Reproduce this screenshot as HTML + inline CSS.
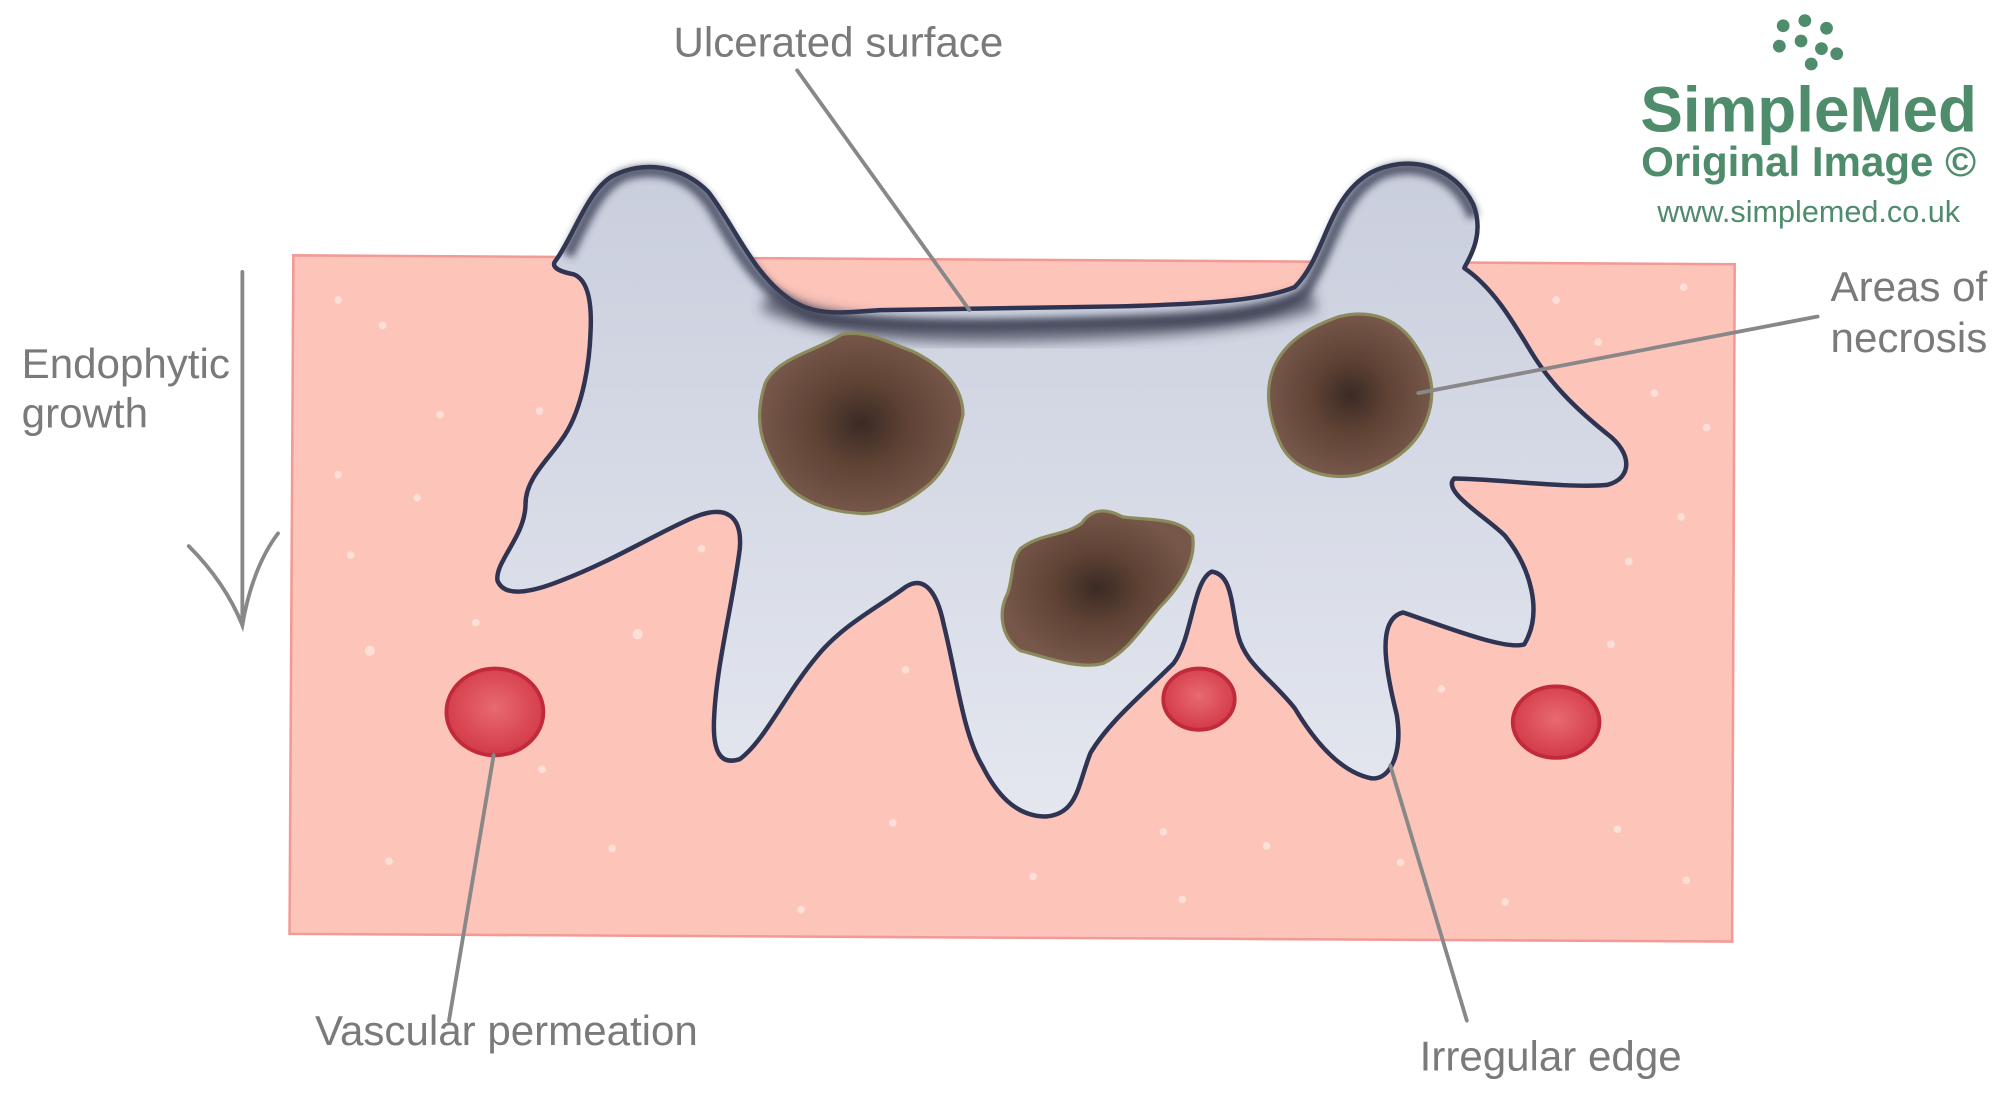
<!DOCTYPE html>
<html><head><meta charset="utf-8"><style>
html,body{margin:0;padding:0;background:#fff;}
svg{display:block;}
text{font-family:"Liberation Sans",sans-serif;}
</style></head><body>
<svg width="2000" height="1105" viewBox="0 0 1568 866" xmlns="http://www.w3.org/2000/svg">
<defs>
<filter id="bl" x="-20%" y="-50%" width="140%" height="200%"><feGaussianBlur stdDeviation="3"/></filter>
<filter id="bl2" x="-20%" y="-50%" width="140%" height="200%"><feGaussianBlur stdDeviation="5"/></filter>
<radialGradient id="nec" cx="50%" cy="50%" r="50%">
<stop offset="0" stop-color="#3a2a24"/><stop offset="0.45" stop-color="#5e4234"/><stop offset="1" stop-color="#76574a"/>
</radialGradient>
<radialGradient id="rbc" cx="50%" cy="45%" r="55%">
<stop offset="0" stop-color="#e86a72"/><stop offset="1" stop-color="#d33a48"/>
</radialGradient>
<linearGradient id="tum" x1="0" y1="0" x2="0" y2="1">
<stop offset="0" stop-color="#c9cedd"/><stop offset="1" stop-color="#e4e7ef"/>
</linearGradient>
</defs>
<rect width="1568" height="866" fill="#fff"/>
<polygon points="230,200 1360,207 1358,738 227,732" fill="#fdc4ba" stroke="#f29a95" stroke-width="2"/>
<g fill="#fde6e0" opacity="0.8">
<circle cx="265" cy="235" r="3"/><circle cx="345" cy="325" r="3"/><circle cx="300" cy="255" r="3"/><circle cx="265" cy="372" r="3"/><circle cx="327" cy="390" r="3"/><circle cx="275" cy="435" r="3"/><circle cx="290" cy="510" r="4"/><circle cx="500" cy="497" r="4"/><circle cx="550" cy="430" r="3"/><circle cx="425" cy="603" r="3"/><circle cx="480" cy="665" r="3"/><circle cx="305" cy="675" r="3"/><circle cx="628" cy="713" r="3"/><circle cx="700" cy="645" r="3"/><circle cx="810" cy="687" r="3"/><circle cx="912" cy="652" r="3"/><circle cx="993" cy="663" r="3"/><circle cx="927" cy="705" r="3"/><circle cx="1098" cy="676" r="3"/><circle cx="1180" cy="707" r="3"/><circle cx="1268" cy="650" r="3"/><circle cx="1322" cy="690" r="3"/><circle cx="1263" cy="505" r="3"/><circle cx="1277" cy="440" r="3"/><circle cx="1318" cy="405" r="3"/><circle cx="1297" cy="308" r="3"/><circle cx="1253" cy="268" r="3"/><circle cx="1220" cy="235" r="3"/><circle cx="1320" cy="225" r="3"/><circle cx="1338" cy="335" r="3"/><circle cx="1130" cy="540" r="3"/><circle cx="710" cy="525" r="3"/><circle cx="373" cy="488" r="3"/><circle cx="423" cy="322" r="3"/>
</g>
<path d="M435,205 C450,185 460,150 480,138 C505,125 535,130 555,150 C575,175 590,215 620,235 C640,248 660,245 690,243 L880,240 C950,238 990,235 1015,225 C1040,200 1040,155 1075,135 C1105,120 1140,130 1155,160 C1165,185 1150,205 1148,210 C1170,225 1185,250 1200,275 C1215,300 1235,320 1260,340 C1280,355 1280,375 1260,380 C1230,383 1170,375 1140,375 C1130,385 1165,405 1180,420 C1200,445 1210,480 1195,505 C1180,510 1130,490 1100,480 C1080,485 1085,520 1095,560 C1100,590 1090,612 1075,610 C1050,605 1030,580 1015,555 C995,530 975,520 970,495 C965,470 965,450 950,448 C935,455 935,500 920,520 C895,545 870,565 855,590 C845,615 845,638 820,640 C795,640 780,620 770,600 C755,575 750,530 740,490 C735,465 725,450 710,460 C690,475 660,490 640,515 C615,545 600,580 580,595 C565,600 558,590 560,560 C562,520 575,470 580,430 C582,405 570,395 545,405 C520,415 480,440 440,455 C415,465 395,468 390,455 C388,440 412,420 412,395 C412,375 430,360 440,345 C455,325 462,290 463,260 C464,240 462,220 450,215 C440,213 432,210 435,205 Z" fill="url(#tum)" stroke="#2f3452" stroke-width="3.5" stroke-linejoin="round"/>
<path d="M445,200 C460,170 470,145 490,137 C520,128 545,140 560,165 C580,200 600,235 640,248 C700,258 800,255 900,252 C960,250 1000,245 1022,230 C1045,195 1050,150 1085,135 C1115,125 1145,140 1155,170" fill="none" stroke="#383c52" stroke-width="9" filter="url(#bl)" opacity="0.8"/>
<path d="M600,235 C640,255 700,262 800,260 C900,258 980,252 1030,235" fill="none" stroke="#3a3e50" stroke-width="16" filter="url(#bl2)" opacity="0.7"/>
<path d="M600,300 C610,280 640,275 660,262 C680,258 700,270 715,275 C735,285 755,300 755,325 C750,345 745,365 728,380 C710,395 690,405 670,402 C645,400 620,390 610,370 C598,350 590,330 600,300 Z" fill="url(#nec)" stroke="#8c8a5c" stroke-width="2.5"/>
<path d="M1000,285 C1010,265 1030,255 1050,248 C1075,242 1095,250 1108,268 C1120,285 1128,305 1118,330 C1110,350 1090,365 1065,372 C1040,377 1015,368 1005,350 C995,330 990,305 1000,285 Z" fill="url(#nec)" stroke="#8c8a5c" stroke-width="2.5"/>
<path d="M800,430 C815,418 835,420 848,410 C855,400 865,397 880,405 C900,408 925,405 935,420 C938,440 925,460 910,475 C895,492 885,510 865,520 C845,525 820,515 800,510 C785,500 782,480 790,465 C795,450 792,440 800,430 Z" fill="url(#nec)" stroke="#8c8a5c" stroke-width="2.5"/>
<ellipse cx="388" cy="558" rx="38" ry="34" fill="url(#rbc)" stroke="#c02a3a" stroke-width="3"/>
<ellipse cx="940" cy="548" rx="28" ry="24" fill="url(#rbc)" stroke="#c02a3a" stroke-width="3"/>
<ellipse cx="1220" cy="566" rx="34" ry="28" fill="url(#rbc)" stroke="#c02a3a" stroke-width="3"/>
<g stroke="#888" stroke-width="3" fill="none" stroke-linecap="round">
<line x1="625" y1="55" x2="760" y2="243"/>
<line x1="190" y1="213" x2="190" y2="490"/>
<path d="M148,428 C165,445 180,465 190,490 C195,460 205,435 218,418"/>
<line x1="1425" y1="248" x2="1112" y2="308"/>
<line x1="387" y1="592" x2="352" y2="800"/>
<line x1="1090" y1="600" x2="1150" y2="800"/>
</g>
<g fill="#7a7a7a" font-size="33">
<text x="528" y="44">Ulcerated surface</text>
<text x="17" y="296">Endophytic</text>
<text x="17" y="335">growth</text>
<text x="1558" y="236" text-anchor="end">Areas of</text>
<text x="1558" y="276" text-anchor="end">necrosis</text>
<text x="247" y="819">Vascular permeation</text>
<text x="1113" y="839">Irregular edge</text>
</g>
<g fill="#4e8c6c">
<circle cx="1398" cy="20" r="5"/><circle cx="1415" cy="16" r="5"/><circle cx="1432" cy="22" r="5"/><circle cx="1395" cy="36" r="5"/><circle cx="1412" cy="32" r="5"/><circle cx="1428" cy="38" r="5"/><circle cx="1440" cy="42" r="5"/><circle cx="1420" cy="50" r="5"/>
<text x="1418" y="103" text-anchor="middle" font-size="50" font-weight="bold">SimpleMed</text>
<text x="1418" y="138" text-anchor="middle" font-size="33" font-weight="bold">Original Image ©</text>
<text x="1418" y="174" text-anchor="middle" font-size="24">www.simplemed.co.uk</text>
</g>
</svg>
</body></html>
